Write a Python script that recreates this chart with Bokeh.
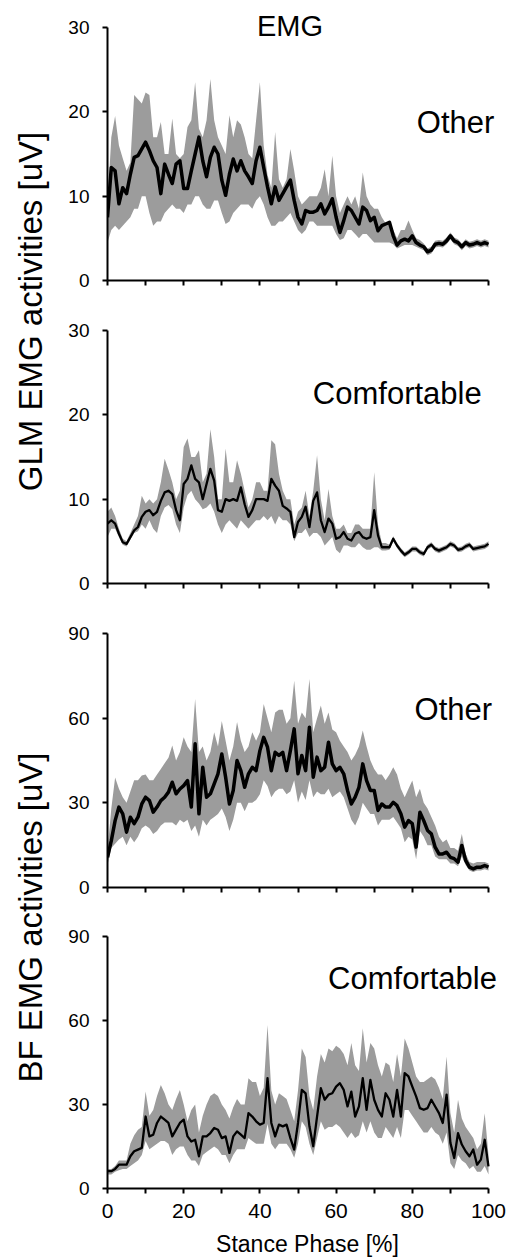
import math
from bokeh.plotting import figure
from bokeh.models import Range1d, FixedTicker, Label, ColumnDataSource
from bokeh.layouts import row, column
from bokeh.embed import file_html
from bokeh.resources import INLINE

FONT = "Liberation Sans"

# ---------------- data ----------------
stance = list(range(0, 101))            # stance phase [%]
x_ticks = [0, 10, 20, 30, 40, 50, 60, 70, 80, 90, 100]
x_tick_labels = ["0", "", "20", "", "40", "", "60", "", "80", "", "100"]
glm_ticks = [0, 10, 20, 30]
bf_ticks = [0, 30, 60, 90]

glm_other_mean = [
    7.5, 13.4, 13.0, 9.1, 11.0, 10.3, 12.6, 14.6, 14.8, 15.6,
    16.4, 15.4, 14.2, 13.4, 10.3, 13.8, 12.6, 11.5, 13.8, 14.2,
    10.9, 10.9, 13.0, 15.0, 17.0, 14.2, 12.3, 14.6, 15.8, 15.0,
    11.9, 10.1, 12.6, 14.4, 13.0, 14.2, 13.0, 12.3, 11.5, 14.2,
    15.8, 13.4, 11.1, 9.1, 11.1, 9.5, 10.3, 11.1, 11.9, 9.5,
    7.5, 6.7, 8.3, 8.1, 8.1, 8.3, 9.1, 7.9, 8.7, 9.7,
    7.5, 5.7, 7.1, 8.7, 8.3, 7.5, 6.7, 8.7, 8.3, 7.1,
    7.5, 5.9, 6.5, 6.7, 6.9, 5.3, 4.2, 4.7, 4.9, 4.7,
    5.3, 4.5, 4.2, 4.0, 3.4, 3.6, 4.3, 4.4, 4.3, 4.7,
    5.3, 4.7, 4.5, 4.0, 4.5, 4.2, 4.3, 4.5, 4.3, 4.5,
    4.3]
glm_other_upper = [
    9.0, 17.0, 19.5, 16.0, 14.5, 13.0, 14.0, 22.0, 21.5, 21.0,
    22.3, 22.0, 17.0, 17.0, 18.8, 15.0, 15.0, 19.2, 15.0, 14.5,
    15.0, 18.2, 19.0, 23.5, 18.0, 17.0, 19.0, 23.9, 19.0, 17.0,
    16.0, 15.0, 19.6, 17.0, 19.0, 18.5, 17.0, 15.0, 14.5, 19.0,
    23.5, 16.0, 12.5, 11.0, 17.6, 12.0, 11.0, 12.0, 15.6, 13.0,
    10.0, 9.0, 9.5, 10.0, 10.0, 10.0, 11.0, 13.2, 10.0, 14.8,
    10.0, 8.0, 9.0, 10.0, 9.0, 10.0, 8.5, 12.8, 10.0, 9.0,
    8.5, 8.5, 7.5, 6.8, 7.0, 6.0, 5.0, 6.0, 6.0, 7.1,
    6.0, 5.0, 4.8, 4.4, 3.8, 4.0, 4.7, 4.8, 4.7, 5.1,
    5.7, 5.1, 4.9, 4.4, 4.9, 4.6, 4.7, 4.9, 4.7, 4.9,
    4.7]
glm_other_lower = [
    4.5, 6.0, 6.5, 6.0, 6.5, 7.0, 7.5, 8.5, 8.5, 10.0,
    10.0, 8.0, 6.5, 7.0, 7.0, 8.0, 8.5, 9.0, 8.5, 8.5,
    8.0, 9.0, 9.0, 10.0, 10.0, 9.0, 8.5, 8.5, 9.5, 9.5,
    8.0, 6.7, 7.0, 8.0, 8.5, 9.0, 9.0, 9.0, 8.5, 9.5,
    10.0, 9.0, 7.5, 6.5, 6.5, 7.0, 7.0, 7.5, 8.0, 7.0,
    6.0, 5.5, 6.0, 7.0, 7.0, 6.5, 6.5, 6.5, 6.5, 6.5,
    5.5, 4.8, 5.0, 6.0, 6.0, 5.5, 5.0, 5.5, 5.5, 5.0,
    4.5, 4.5, 4.5, 4.5, 4.5, 4.3, 3.8, 4.0, 4.2, 4.2,
    4.2, 4.0, 3.8, 3.6, 3.0, 3.2, 3.9, 4.0, 3.9, 4.3,
    4.9, 4.3, 4.1, 3.6, 4.1, 3.8, 3.9, 4.1, 3.9, 4.1,
    3.9]

glm_comf_mean = [
    7.1, 7.5, 7.1, 5.9, 4.9, 4.7, 5.5, 6.3, 6.7, 7.9,
    8.5, 8.7, 8.1, 8.5, 9.8, 10.8, 11.0, 10.6, 8.7, 7.5,
    11.8, 12.4, 14.0, 12.4, 12.0, 10.0, 11.8, 13.6, 12.2, 8.7,
    8.5, 10.0, 9.8, 10.0, 9.8, 11.4, 9.4, 7.9, 8.7, 10.0,
    10.0, 10.0, 9.8, 12.4, 11.6, 11.0, 9.2, 8.9, 8.5, 5.5,
    7.3, 7.9, 9.1, 6.7, 9.8, 10.8, 7.5, 6.1, 7.7, 7.1,
    5.3, 5.5, 6.1, 5.3, 5.1, 5.9, 6.1, 5.5, 5.3, 5.5,
    8.7, 5.7, 4.3, 4.3, 4.3, 5.3, 4.5, 3.9, 3.4, 3.7,
    4.1, 4.1, 3.7, 3.5, 4.3, 4.6, 4.1, 3.9, 4.1, 4.3,
    4.7, 4.5, 4.0, 4.1, 4.4, 4.6, 4.1, 4.2, 4.3, 4.4,
    4.7]
glm_comf_upper = [
    8.5, 9.0, 8.0, 6.5, 5.3, 5.0, 6.0, 7.0, 8.0, 10.4,
    9.5, 10.0, 9.5, 10.0, 12.0, 14.8, 13.5, 12.0, 10.0, 11.0,
    16.2, 17.2, 15.0, 15.0, 15.8, 12.0, 13.0, 18.3, 15.0, 10.0,
    10.0, 16.0, 12.0, 12.0, 14.6, 13.0, 11.0, 9.0, 10.0, 12.0,
    12.0, 11.0, 11.0, 17.0, 16.5, 13.0, 11.0, 10.0, 10.0, 7.0,
    8.5, 9.0, 11.0, 8.0, 11.0, 15.2, 10.0, 7.5, 11.2, 8.0,
    6.5, 6.5, 7.0, 6.0, 6.0, 7.0, 7.0, 6.5, 6.5, 6.5,
    13.2, 7.0, 4.8, 4.8, 4.6, 5.6, 4.8, 4.2, 3.7, 4.0,
    4.4, 4.4, 4.0, 3.8, 4.6, 4.9, 4.4, 4.2, 4.4, 4.6,
    5.0, 4.8, 4.3, 4.4, 4.7, 4.9, 4.4, 4.5, 4.6, 4.7,
    5.0]
glm_comf_lower = [
    5.5, 6.5, 6.5, 5.5, 4.6, 4.4, 5.2, 6.0, 6.2, 7.0,
    6.5, 7.5, 6.5, 6.0, 8.0, 9.0, 9.3, 8.8, 7.0, 6.0,
    9.0, 10.5, 11.0, 10.0, 9.5, 8.8, 9.0, 9.5, 8.5, 7.0,
    6.0, 7.0, 7.5, 7.0, 6.5, 7.5, 7.0, 6.5, 7.0, 7.5,
    7.5, 8.0, 7.5, 8.0, 7.0, 8.0, 7.5, 7.5, 7.0, 5.0,
    6.0, 6.0, 6.5, 5.5, 6.0, 6.0, 5.5, 4.5, 5.0, 5.5,
    4.0, 3.6, 4.5, 4.5, 4.3, 4.3, 4.8, 4.3, 4.0, 4.0,
    4.3, 4.3, 3.9, 3.9, 4.0, 5.0, 4.2, 3.6, 3.1, 3.4,
    3.8, 3.8, 3.4, 3.2, 4.0, 4.3, 3.8, 3.6, 3.8, 4.0,
    4.4, 4.2, 3.7, 3.8, 4.1, 4.3, 3.8, 3.9, 4.0, 4.1,
    4.4]

bf_other_mean = [
    10.7, 16.6, 23.7, 28.5, 26.1, 19.6, 24.9, 22.6, 24.9, 29.6,
    32.0, 30.8, 26.7, 28.5, 30.8, 32.0, 33.8, 37.3, 33.2, 34.9,
    36.1, 37.9, 28.5, 50.9, 26.1, 42.6, 32.0, 33.2, 36.7, 40.3,
    47.3, 39.1, 29.6, 34.4, 45.0, 41.4, 35.5, 40.3, 42.6, 41.4,
    48.5, 53.2, 49.7, 41.4, 47.9, 46.8, 47.9, 41.4, 48.5, 56.2,
    40.3, 46.8, 41.4, 56.8, 39.1, 46.2, 41.4, 42.6, 51.5, 43.8,
    41.4, 42.6, 40.3, 34.4, 29.6, 32.0, 35.5, 43.8, 37.9, 34.4,
    34.4, 27.3, 29.6, 28.5, 28.5, 30.2, 29.0, 26.1, 21.4, 23.7,
    22.6, 14.3, 26.7, 23.7, 20.2, 19.0, 14.3, 11.9, 11.9, 12.5,
    10.7, 10.2, 9.0, 14.9, 9.6, 7.2, 6.6, 7.2, 7.2, 7.8,
    7.2]
bf_other_upper = [
    13, 28, 39, 35, 32, 30, 34, 38, 38, 39.7,
    40, 38, 38, 40, 42, 44, 46, 50.3, 45, 48,
    53.2, 50, 48, 66.8, 48, 50, 45, 48, 55, 50,
    59, 52, 45, 50, 58.6, 52, 48, 50, 55, 52,
    55, 65, 60, 55, 62, 63, 63, 58, 60, 73.3,
    58, 62, 60, 73.9, 55, 60, 64.5, 58, 62, 56,
    55, 52, 50, 48, 45, 47, 50, 55.6, 50, 45,
    42, 40, 40, 38, 40, 42.6, 40, 35, 32, 35,
    37.9, 32, 35, 30, 28, 25, 22, 18, 16, 17,
    14, 14, 13, 19, 12, 9, 8.5, 9, 9, 9,
    8.5]
bf_other_lower = [
    8, 14, 15.5, 17, 18, 15, 18, 16, 18, 21,
    22, 21, 19, 20, 22, 23, 23, 23, 22, 24,
    23, 24, 20, 22, 18, 24, 22, 24, 25, 26,
    28, 25, 20, 24, 30, 30, 27, 30, 30, 31,
    33, 38, 36, 32, 34, 35, 35, 33, 34, 38,
    30, 34, 31, 38, 32, 34, 33, 33, 35, 32,
    33, 34, 32, 28, 24, 22, 25, 30, 28, 26,
    26, 22, 24, 24, 24, 25, 23, 21, 16, 18,
    17, 10, 20, 18, 15, 15, 11, 10, 10, 10,
    8.5, 8.5, 7.5, 11, 8, 6, 5.5, 6, 6, 6.5,
    6]

bf_comf_mean = [
    6.2, 6.2, 7.0, 8.5, 8.5, 8.5, 11.5, 13.3, 13.9, 14.5,
    25.7, 18.6, 19.2, 23.4, 25.7, 24.6, 23.4, 18.6, 21.0, 23.4,
    24.6, 18.6, 16.8, 17.4, 11.5, 18.6, 18.6, 19.8, 21.6, 21.0,
    18.0, 18.6, 12.7, 18.6, 20.4, 19.2, 18.0, 26.9, 25.7, 24.0,
    22.8, 23.4, 39.4, 23.4, 18.6, 22.8, 22.2, 22.8, 18.0, 13.9,
    23.4, 35.2, 34.0, 22.2, 15.1, 25.7, 35.8, 31.7, 33.5, 34.0,
    36.4, 37.6, 35.2, 29.3, 34.6, 25.7, 29.3, 39.4, 28.1, 38.8,
    31.7, 28.1, 25.7, 34.0, 31.7, 25.7, 35.2, 25.7, 41.2, 40.0,
    36.4, 32.9, 28.7, 28.1, 28.7, 31.7, 29.3, 26.9, 23.4, 33.5,
    16.3, 10.9, 19.8, 15.7, 13.3, 11.5, 13.9, 8.5, 10.3, 17.4,
    7.9]
bf_comf_upper = [
    7, 7, 8, 10, 10, 10, 16, 19, 21, 22,
    34.6, 26, 28, 33, 37, 34, 30, 28, 32, 35.2,
    30, 24, 28, 30, 20, 26, 30, 33, 34, 33,
    30, 28, 25, 29, 32, 30, 30, 39.4, 38, 38,
    33, 36, 58.4, 35, 30, 34, 33, 32, 28, 24,
    35, 50, 47, 33, 28, 40, 48, 45, 50, 49,
    51, 50, 48, 44, 52, 44, 42, 57.2, 45, 52,
    50, 44, 40, 45, 44, 38, 48, 40, 53.6, 50,
    45, 40, 38, 38, 39, 40, 39, 36, 32, 47.1,
    27, 20, 31.7, 25, 22, 20, 18, 14, 16, 26.9,
    12]
bf_comf_lower = [
    5, 5, 6, 6.5, 7, 7, 8, 9, 10, 12,
    17, 14, 15, 16, 17, 17, 16, 12, 14, 15,
    15, 12, 10, 10, 8, 12, 13, 14, 15, 14,
    12, 12, 9, 12, 14, 14, 14, 18, 17, 16,
    16, 16, 23, 16, 14, 16, 16, 16, 14, 11,
    16, 24, 22, 16, 12, 18, 24, 21, 22, 22,
    23, 22, 20, 18, 20, 18, 19, 24, 20, 24,
    20, 18, 18, 22, 20, 18, 22, 18, 28, 28,
    26, 24, 22, 20, 20, 22, 20, 19, 16, 20,
    9, 7, 12, 10, 9, 7, 8, 6, 6, 8,
    5]

BAND = "#9c9c9c"

# pixel geometry of each panel: the axes occupy the lower-left part of the frame
FRAME_W = 400        # px, frame width
AXIS_W = 381         # px, length of the 0..100 axis
X_END = 100.0 * FRAME_W / AXIS_W


def make_panel(height, frame_h, axis_h, ymax, yticks, mean, upper, lower, lw,
               cond, cond_x, cond_y, show_x_labels, bottom):
    y_end = ymax * frame_h / axis_h
    p = figure(width=452, height=height,
               x_range=Range1d(0, X_END), y_range=Range1d(0, y_end),
               output_backend="svg", toolbar_location=None,
               min_border_left=47, min_border_right=5,
               min_border_top=0, min_border_bottom=bottom)
    p.outline_line_color = None
    p.grid.visible = False
    p.background_fill_color = "white"
    p.border_fill_color = "white"

    src = ColumnDataSource(dict(x=stance, m=mean, u=upper, l=lower))
    p.varea(x="x", y1="l", y2="u", source=src, fill_color=BAND, fill_alpha=1.0)
    p.line(x="x", y="m", source=src, line_color="black", line_width=lw,
           line_join="round")

    for ax in (p.xaxis[0], p.yaxis[0]):
        ax.axis_line_width = 2
        ax.axis_line_color = "black"
        ax.major_tick_line_width = 2
        ax.major_tick_line_color = "black"
        ax.major_tick_out = 5
        ax.major_tick_in = 0
        ax.minor_tick_line_color = None
        ax.major_label_text_font = FONT
        ax.major_label_text_color = "black"

    p.xaxis.bounds = (0, 100)
    p.xaxis.ticker = FixedTicker(ticks=x_ticks)
    if show_x_labels:
        p.xaxis.major_label_overrides = {t: s for t, s in zip(x_ticks, x_tick_labels)}
    else:
        p.xaxis.major_label_overrides = {t: "" for t in x_ticks}
    p.xaxis.major_label_text_font_size = "21px"
    p.xaxis.major_label_standoff = 10

    p.yaxis.bounds = (0, ymax)
    p.yaxis.ticker = FixedTicker(ticks=yticks)
    p.yaxis.major_label_text_font_size = "19px"
    p.yaxis.major_label_standoff = 13

    p.add_layout(Label(x=cond_x, y=cond_y, text=cond, text_font=FONT,
                       text_font_size="31px", text_align="left",
                       text_baseline="middle", text_color="black"))
    return p


p1 = make_panel(320, 280, 253, 30, glm_ticks, glm_other_mean, glm_other_upper,
                glm_other_lower, 3.5, "Other", 81.2, 18.7, False, 40)
p1.add_layout(Label(x=47.9, y=30.2, text="EMG", text_font=FONT,
                    text_font_size="29px", text_align="center",
                    text_baseline="middle", text_color="black"))

p2 = make_panel(303, 263, 253, 30, glm_ticks, glm_comf_mean, glm_comf_upper,
                glm_comf_lower, 2.3, "Comfortable", 53.9, 22.5, False, 40)

p3 = make_panel(303, 264, 254, 90, bf_ticks, bf_other_mean, bf_other_upper,
                bf_other_lower, 3.5, "Other", 80.6, 63.1, False, 39)

p4 = make_panel(333, 263, 253, 90, bf_ticks, bf_comf_mean, bf_comf_upper,
                bf_comf_lower, 2.3, "Comfortable", 57.9, 75.1, True, 70)
p4.xaxis.axis_label = "Stance Phase [%]"
p4.xaxis.axis_label_text_font = FONT
p4.xaxis.axis_label_text_font_size = "23px"
p4.xaxis.axis_label_text_font_style = "normal"
p4.xaxis.axis_label_text_color = "black"
p4.xaxis.axis_label_standoff = 10

# left strip with the shared y-axis titles
lab = figure(width=60, height=1259, x_range=Range1d(0, 60), y_range=Range1d(0, 1259),
             output_backend="svg", toolbar_location=None,
             x_axis_type=None, y_axis_type=None,
             min_border_left=0, min_border_right=0, min_border_top=0, min_border_bottom=0)
lab.outline_line_color = None
lab.grid.visible = False
lab.add_layout(Label(x=30, y=948, text="GLM EMG activities [uV]", text_font=FONT,
                     text_font_size="33px", text_align="center", text_baseline="middle",
                     angle=math.pi / 2, text_color="black"))
lab.add_layout(Label(x=30, y=342, text="BF EMG activities [uV]", text_font=FONT,
                     text_font_size="33px", text_align="center", text_baseline="middle",
                     angle=math.pi / 2, text_color="black"))

layout = row(lab, column(p1, p2, p3, p4, spacing=0), spacing=0)

open("out.html", "w").write(file_html(layout, INLINE))
